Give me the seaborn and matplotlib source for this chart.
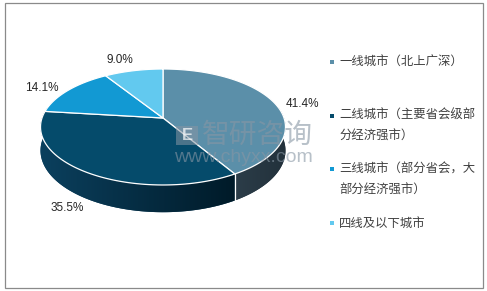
import numpy as np
import matplotlib
matplotlib.use("Agg")
import matplotlib.pyplot as plt
import seaborn as sns
from matplotlib.patches import Polygon, Rectangle
from matplotlib.colors import LinearSegmentedColormap

# ---------------- data ----------------
categories = [
    "一线城市（北上广深）",
    "二线城市（主要省会级部\n分经济强市）",
    "三线城市（部分省会，大\n部分经济强市）",
    "四线及以下城市",
]
shares = [41.4, 35.5, 14.1, 9.0]
value_labels = ["41.4%", "35.5%", "14.1%", "9.0%"]

top_colors = ["#5b8fa9", "#054b6b", "#1299d3", "#62c9ef"]
# wall gradient colours (left -> right) for each slice
wall_left = ["#2c3d49", "#0b405e", "#0a6f9c", "#3f9cc0"]
wall_right = ["#22313b", "#001a28", "#085a80", "#3286a6"]

# ---------------- style ----------------
sns.set_theme(style="white")
plt.rcParams["font.family"] = ["Liberation Sans", "Noto Sans CJK SC", "DejaVu Sans"]
top_pal = sns.color_palette(top_colors)

fig = plt.figure(figsize=(4.87, 2.91), dpi=100)
ax = fig.add_axes([0, 0, 1, 1])
ax.set_xlim(0, 487)
ax.set_ylim(291, 0)
ax.axis("off")

# 3D pie geometry (pixel space)
cx, cy = 163.0, 118.0
rx, A, k, depth = 121.0, 56.6, 0.155, 23.0


def proj(theta, r=1.0, drop=0.0):
    X = r * np.cos(theta)
    Z = r * np.sin(theta)
    s = 1.0 / (1.0 - k * Z)
    return cx + rx * X * s, cy + A * Z * s + drop * s


fracs = np.array(shares) / np.sum(shares)
starts = -np.pi / 2 + 2 * np.pi * np.concatenate([[0], np.cumsum(fracs)[:-1]])
ends = starts + 2 * np.pi * fracs

# walls (front-facing part only), drawn with a horizontal gradient
vis0, vis1 = np.radians(-12), np.radians(192)
for i, (t0, t1) in enumerate(zip(starts, ends)):
    # bring angles into the [-pi/2, 3pi/2) window
    a, b = max(t0, vis0), min(t1, vis1)
    if b <= a:
        continue
    ts = np.linspace(a, b, 200)
    top = [proj(t) for t in ts]
    bot = [proj(t, drop=depth) for t in ts[::-1]]
    poly = Polygon(top + bot, closed=True, facecolor=wall_left[i],
                   edgecolor="none")
    ax.add_patch(poly)
    xs = [p[0] for p in top + bot]
    ys = [p[1] for p in top + bot]
    cmap = LinearSegmentedColormap.from_list("w%d" % i, [wall_left[i], wall_right[i]])
    grad = np.linspace(0, 1, 256).reshape(1, -1)
    im = ax.imshow(grad, cmap=cmap, aspect="auto",
                   extent=(min(xs) - 1, max(xs) + 1, max(ys) + 1, min(ys) - 1),
                   interpolation="bilinear", zorder=poly.get_zorder())
    im.set_clip_path(poly)

ax.set_xlim(0, 487)
ax.set_ylim(291, 0)

# white separator line on wall at slice boundaries in front
for t in starts:
    if np.sin(t) > 0.05:
        p, q = proj(t), proj(t, drop=depth)
        ax.plot([p[0], q[0]], [p[1], q[1]], color="white", lw=0.9, zorder=2)

# top faces
for i, (t0, t1) in enumerate(zip(starts, ends)):
    ts = np.linspace(t0, t1, 200)
    pts = [(cx, cy)] + [proj(t) for t in ts]
    ax.add_patch(Polygon(pts, closed=True, facecolor=top_pal[i],
                         edgecolor="white", lw=0.9, joinstyle="round", zorder=3))

# value labels
label_shift = [(6, 3), (-2, -5), (-9, 3), (-9, -3)]
for i, (t0, t1) in enumerate(zip(starts, ends)):
    m = 0.5 * (t0 + t1)
    front = np.sin(m) > 0
    x, y = proj(m, r=1.2, drop=depth if front else 0.0)
    dx, dy = label_shift[i]
    ax.text(x + dx, y + dy, value_labels[i], ha="center", va="center",
            fontsize=8.5, color="#262626", zorder=5,
            family=["Liberation Sans", "DejaVu Sans"])

# watermark
wm = "#8796a4"
ax.text(257, 135, "智研咨询", ha="center", va="center", fontsize=20,
        color=wm, alpha=0.6, family=["Noto Sans CJK SC"], zorder=6)
ax.add_patch(Rectangle((176, 126), 22, 19, facecolor=wm, edgecolor="none",
                       alpha=0.55, zorder=6))
ax.text(187, 135.5, "E", ha="center", va="center", fontsize=12, color="white",
        alpha=0.7, family=["Liberation Sans"], fontweight="bold", zorder=6)
ax.text(243, 158, "www.chyxx.com", ha="center", va="center", fontsize=14,
        color=wm, alpha=0.6, family=["Liberation Sans"], zorder=6)

# legend
lx, ly0, step, line_h = 332, 62, 53.7, 21
for i, lab in enumerate(categories):
    y = ly0 + step * i
    ax.add_patch(Rectangle((lx - 2, y - 2), 4, 4, facecolor=top_pal[i],
                           edgecolor="none"))
    for j, line in enumerate(lab.split("\n")):
        ax.text(lx + 7, y + j * line_h, line, ha="left", va="center",
                fontsize=8.9, color="#404040",
                family=["Noto Sans CJK SC", "DejaVu Sans"])

# frame
ax.add_patch(Rectangle((4.5, 2.5), 478.5, 285.5, fill=False,
                       edgecolor="#8a8a8a", lw=0.9))

fig.savefig("out.png", dpi=100)
